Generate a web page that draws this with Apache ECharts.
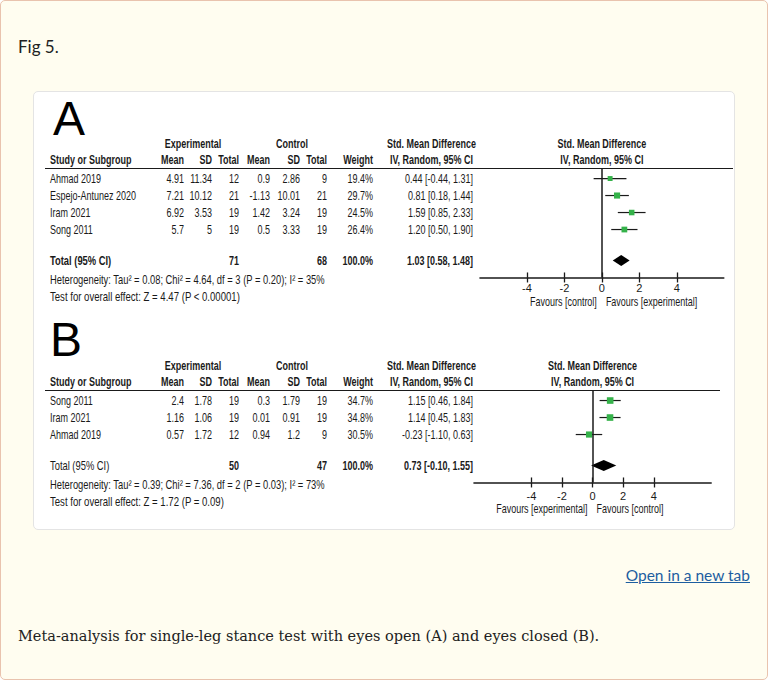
<!DOCTYPE html>
<html>
<head>
<meta charset="utf-8">
<script src="https://cdn.jsdelivr.net/npm/echarts@6/dist/echarts.min.js"></script>
<style>
html,body{margin:0;padding:0;width:768px;height:681px;overflow:hidden;background:#ffffff;}
#page{position:absolute;left:0;top:0;width:768px;height:680px;box-sizing:border-box;border:1px solid #e9c3ae;border-radius:5px;background:#fffdf0;}
#box{position:absolute;left:33px;top:91px;width:702px;height:439px;box-sizing:border-box;background:#ffffff;border:1px solid #e4e4e4;border-radius:5px;}
#chart{position:absolute;left:0;top:0;width:768px;height:681px;}
#fig{position:absolute;left:18px;top:36px;font-family:Lato,"Open Sans",sans-serif;font-size:17px;line-height:22px;color:#222;}
#link{position:absolute;right:18px;top:564px;font-family:Lato,"Open Sans",sans-serif;font-size:15.5px;line-height:22px;color:#1d5ea0;text-decoration:underline;}
#cap{position:absolute;left:18px;top:625px;font-family:"DejaVu Serif","Liberation Serif",serif;font-size:14.5px;line-height:22px;color:#222;white-space:nowrap;}
</style>
</head>
<body>
<div id="page"></div>
<div id="box"></div>
<div id="fig">Fig 5.</div>
<div id="link">Open in a new tab</div>
<div id="cap">Meta-analysis for single-leg stance test with eyes open (A) and eyes closed (B).</div>
<div id="chart"></div>
<script>
// ---------------- data: panel A (eyes open) ----------------
const studiesA   = ['Ahmad 2019', 'Espejo-Antunez 2020', 'Iram 2021', 'Song 2011'];
const expMeanA   = [4.91, 7.21, 6.92, 5.7];
const expSdA     = [11.34, 10.12, 3.53, 5];
const expTotalA  = [12, 21, 19, 19];
const ctlMeanA   = [0.9, -1.13, 1.42, 0.5];
const ctlSdA     = [2.86, 10.01, 3.24, 3.33];
const ctlTotalA  = [9, 21, 19, 19];
const weightA    = [19.4, 29.7, 24.5, 26.4];
const smdA       = [0.44, 0.81, 1.59, 1.20];
const lowA       = [-0.44, 0.18, 0.85, 0.50];
const highA      = [1.31, 1.44, 2.33, 1.90];
const totalsA    = [71, 68, 100.0];          // exp total, control total, weight
const pooledA    = [1.03, 0.58, 1.48];       // estimate, low, high
const hetA       = 'Heterogeneity: Tau\u00b2 = 0.08; Chi\u00b2 = 4.64, df = 3 (P = 0.20); I\u00b2 = 35%';
const testA      = 'Test for overall effect: Z = 4.47 (P < 0.00001)';
const favoursA   = ['Favours [control]', 'Favours [experimental]'];

// ---------------- data: panel B (eyes closed) ----------------
const studiesB   = ['Song 2011', 'Iram 2021', 'Ahmad 2019'];
const expMeanB   = [2.4, 1.16, 0.57];
const expSdB     = [1.78, 1.06, 1.72];
const expTotalB  = [19, 19, 12];
const ctlMeanB   = [0.3, 0.01, 0.94];
const ctlSdB     = [1.79, 0.91, 1.2];
const ctlTotalB  = [19, 19, 9];
const weightB    = [34.7, 34.8, 30.5];
const smdB       = [1.15, 1.14, -0.23];
const lowB       = [0.46, 0.45, -1.10];
const highB      = [1.84, 1.83, 0.63];
const totalsB    = [50, 47, 100.0];
const pooledB    = [0.73, -0.10, 1.55];
const hetB       = 'Heterogeneity: Tau\u00b2 = 0.39; Chi\u00b2 = 7.36, df = 2 (P = 0.03); I\u00b2 = 73%';
const testB      = 'Test for overall effect: Z = 1.72 (P = 0.09)';
const favoursB   = ['Favours [experimental]', 'Favours [control]'];

// ---------------- shared labels ----------------
const axisTicks  = [-4, -2, 0, 2, 4];
const groupHeads = ['Experimental', 'Control', 'Std. Mean Difference', 'Std. Mean Difference'];
const colHeads   = ['Study or Subgroup', 'Mean', 'SD', 'Total', 'Mean', 'SD', 'Total', 'Weight', 'IV, Random, 95% CI', 'IV, Random, 95% CI'];
const totalLabel = 'Total (95% CI)';

// ---------------- layout ----------------
const INK = '#1a1a1a';
const GREEN = '#35b24a';
const FONT = '"Liberation Sans", Arial, Helvetica, sans-serif';
const NARROW = 0.75;
const COLX = {name: 50, eMean: 184, eSd: 212, eTot: 239, cMean: 270, cSd: 300, cTot: 327, weight: 373, ci: 473, ciHead: 431.5, expHead: 193, ctlHead: 292};
const ROWH = 17;

const panels = [
  {letter: 'A', letterX: 53, letterBase: 134, studies: studiesA, eMean: expMeanA, eSd: expSdA, eTot: expTotalA,
   cMean: ctlMeanA, cSd: ctlSdA, cTot: ctlTotalA, weight: weightA, smd: smdA, low: lowA, high: highA,
   totals: totalsA, pooled: pooledA, het: hetA, test: testA, favours: favoursA, totalBold: true,
   gridLeft: 480, gridTop: 168.5, range: 6.5, unitPx: 18.75, lineEnd: 733, labelMargin: 5.5, favOffset: 24},
  {letter: 'B', letterX: 50, letterBase: 355, studies: studiesB, eMean: expMeanB, eSd: expSdB, eTot: expTotalB,
   cMean: ctlMeanB, cSd: ctlSdB, cTot: ctlTotalB, weight: weightB, smd: smdB, low: lowB, high: highB,
   totals: totalsB, pooled: pooledB, het: hetB, test: testB, favours: favoursB, totalBold: false,
   gridLeft: 474, gridTop: 390.5, range: 7.75, unitPx: 15.3, lineEnd: 720, labelMargin: 8, favOffset: 26.5}
];
const Y_MIN = -0.59;
panels.forEach(p => {
  p.totalRow = p.studies.length + 0.82;
  p.yMax = p.totalRow + 1.0;
  p.gridWidth = 2 * p.range * p.unitPx;
  p.gridHeight = (p.yMax - Y_MIN) * ROWH;
});

const chart = echarts.init(document.getElementById('chart'), null, {renderer: 'svg'});

const grids = [], xAxes = [], yAxes = [], series = [];
panels.forEach((p, k) => {
  grids.push({left: p.gridLeft, top: p.gridTop, width: p.gridWidth, height: p.gridHeight, outerBoundsMode: 'none', containLabel: false});
  const base = {type: 'value', gridIndex: k, min: -p.range, max: p.range, splitLine: {show: false}};
  // main axis: line, downward ticks, labels
  xAxes.push(Object.assign({}, base, {
    position: 'bottom',
    axisLine: {show: true, onZero: false, lineStyle: {color: INK, width: 1.6}},
    axisTick: {show: true, inside: false, length: 5, customValues: axisTicks, lineStyle: {color: INK, width: 1.3}},
    axisLabel: {show: true, margin: p.labelMargin, customValues: axisTicks, color: INK, fontSize: 11, fontFamily: FONT,
                formatter: v => String(v)}
  }));
  // twin axis moved down onto the same line: upward halves of the crossing ticks
  xAxes.push(Object.assign({}, base, {
    position: 'top', offset: -p.gridHeight,
    axisLine: {show: false, onZero: false},
    axisTick: {show: true, inside: false, length: 5, customValues: axisTicks, lineStyle: {color: INK, width: 1.3}},
    axisLabel: {show: false}
  }));
  yAxes.push({type: 'value', gridIndex: k, inverse: true, min: Y_MIN, max: p.yMax, show: false});

  const rows = p.studies.map((s, i) => [p.smd[i], i, p.low[i], p.high[i], p.weight[i]]);
  series.push({
    type: 'custom', name: 'studies' + p.letter, xAxisIndex: 2 * k, yAxisIndex: k, clip: false, silent: true,
    data: rows,
    renderItem: (params, api) => {
      const c = api.coord([api.value(0), api.value(1)]);
      const lo = api.coord([api.value(2), api.value(1)]);
      const hi = api.coord([api.value(3), api.value(1)]);
      const s = Math.sqrt(api.value(4)) * 1.12;
      return {type: 'group', children: [
        {type: 'line', shape: {x1: lo[0], y1: lo[1], x2: hi[0], y2: hi[1]}, style: {stroke: INK, lineWidth: 1.2}},
        {type: 'rect', shape: {x: c[0] - s / 2, y: c[1] - s / 2, width: s, height: s}, style: {fill: GREEN}}
      ]};
    },
    markLine: {silent: true, symbol: 'none', label: {show: false}, animation: false,
               lineStyle: {color: INK, width: 1.5, type: 'solid'}, data: [{xAxis: 0}]}
  });
  series.push({
    type: 'custom', name: 'pooled' + p.letter, xAxisIndex: 2 * k, yAxisIndex: k, clip: false, silent: true,
    data: [[p.pooled[0], p.totalRow, p.pooled[1], p.pooled[2]]],
    renderItem: (params, api) => {
      const c = api.coord([api.value(0), api.value(1)]);
      const lo = api.coord([api.value(2), api.value(1)]);
      const hi = api.coord([api.value(3), api.value(1)]);
      const h = 5.5;
      return {type: 'polygon', shape: {points: [[lo[0], c[1]], [c[0], c[1] - h], [hi[0], c[1]], [c[0], c[1] + h]]},
              style: {fill: '#000000'}};
    }
  });
});

chart.setOption({
  animation: false,
  backgroundColor: 'transparent',
  grid: grids, xAxis: xAxes, yAxis: yAxes, series: series
});

// ---------------- table text, positioned on the panels' row scales ----------------
function txt(x, y, s, o) {
  o = o || {};
  const size = o.size || 12;
  const align = o.align || 'left';
  return {type: 'text', x: x, y: y, scaleX: o.narrow === false ? 1 : NARROW, silent: true, z: 10,
          style: {text: s, fill: o.fill || INK, font: (o.bold ? 'bold ' : '') + size + 'px ' + FONT,
                  align: align, textAlign: align, verticalAlign: o.va || 'middle', textVerticalAlign: o.va || 'middle'}};
}
function num(v) { return String(v); }
function ci(e, l, h) { return e.toFixed(2) + ' [' + l.toFixed(2) + ', ' + h.toFixed(2) + ']'; }

const els = [];
panels.forEach((p, k) => {
  const yp = v => chart.convertToPixel({yAxisIndex: k}, v);
  const zero = chart.convertToPixel({xAxisIndex: 2 * k}, 0);
  const top = yp(Y_MIN);
  const axisY = yp(p.yMax);
  // big panel letter
  els.push(txt(p.letterX, p.letterBase - 16, p.letter, {size: 48, narrow: false, fill: '#000'}));
  // group headers
  const gy = top - 25, cy = top - 9;
  els.push(txt(COLX.expHead, gy, groupHeads[0], {bold: true, align: 'center'}));
  els.push(txt(COLX.ctlHead, gy, groupHeads[1], {bold: true, align: 'center'}));
  els.push(txt(COLX.ciHead, gy, groupHeads[2], {bold: true, align: 'center'}));
  els.push(txt(zero, gy, groupHeads[3], {bold: true, align: 'center'}));
  // column headers
  els.push(txt(COLX.name, cy, colHeads[0], {bold: true}));
  const hx = [COLX.eMean, COLX.eSd, COLX.eTot, COLX.cMean, COLX.cSd, COLX.cTot, COLX.weight];
  hx.forEach((x, j) => els.push(txt(x, cy, colHeads[j + 1], {bold: true, align: 'right'})));
  els.push(txt(COLX.ciHead, cy, colHeads[8], {bold: true, align: 'center'}));
  els.push(txt(zero, cy, colHeads[9], {bold: true, align: 'center'}));
  // rule under headers
  els.push({type: 'line', silent: true, shape: {x1: 45, y1: top, x2: p.lineEnd, y2: top}, style: {stroke: INK, lineWidth: 1.2}});
  // study rows
  p.studies.forEach((s, i) => {
    const y = yp(i);
    els.push(txt(COLX.name, y, s));
    els.push(txt(COLX.eMean, y, num(p.eMean[i]), {align: 'right'}));
    els.push(txt(COLX.eSd, y, num(p.eSd[i]), {align: 'right'}));
    els.push(txt(COLX.eTot, y, num(p.eTot[i]), {align: 'right'}));
    els.push(txt(COLX.cMean, y, num(p.cMean[i]), {align: 'right'}));
    els.push(txt(COLX.cSd, y, num(p.cSd[i]), {align: 'right'}));
    els.push(txt(COLX.cTot, y, num(p.cTot[i]), {align: 'right'}));
    els.push(txt(COLX.weight, y, p.weight[i].toFixed(1) + '%', {align: 'right'}));
    els.push(txt(COLX.ci, y, ci(p.smd[i], p.low[i], p.high[i]), {align: 'right'}));
  });
  // total row
  const ty = yp(p.totalRow);
  els.push(txt(COLX.name, ty, totalLabel, {bold: p.totalBold, size: 12.5}));
  els.push(txt(COLX.eTot, ty, String(p.totals[0]), {bold: true, align: 'right'}));
  els.push(txt(COLX.cTot, ty, String(p.totals[1]), {bold: true, align: 'right'}));
  els.push(txt(COLX.weight, ty, p.totals[2].toFixed(1) + '%', {bold: true, align: 'right'}));
  els.push(txt(COLX.ci, ty, ci(p.pooled[0], p.pooled[1], p.pooled[2]), {bold: true, align: 'right'}));
  // heterogeneity & overall effect
  els.push(txt(COLX.name, ty + 19, p.het, {size: 12.5}));
  els.push(txt(COLX.name, ty + 36.5, p.test, {size: 12.8}));
  // favours labels
  els.push(txt(zero - 5, axisY + p.favOffset, p.favours[0], {align: 'right'}));
  els.push(txt(zero + 4, axisY + p.favOffset, p.favours[1], {align: 'left'}));
});

chart.setOption({graphic: {elements: els}});
</script>
</body>
</html>
